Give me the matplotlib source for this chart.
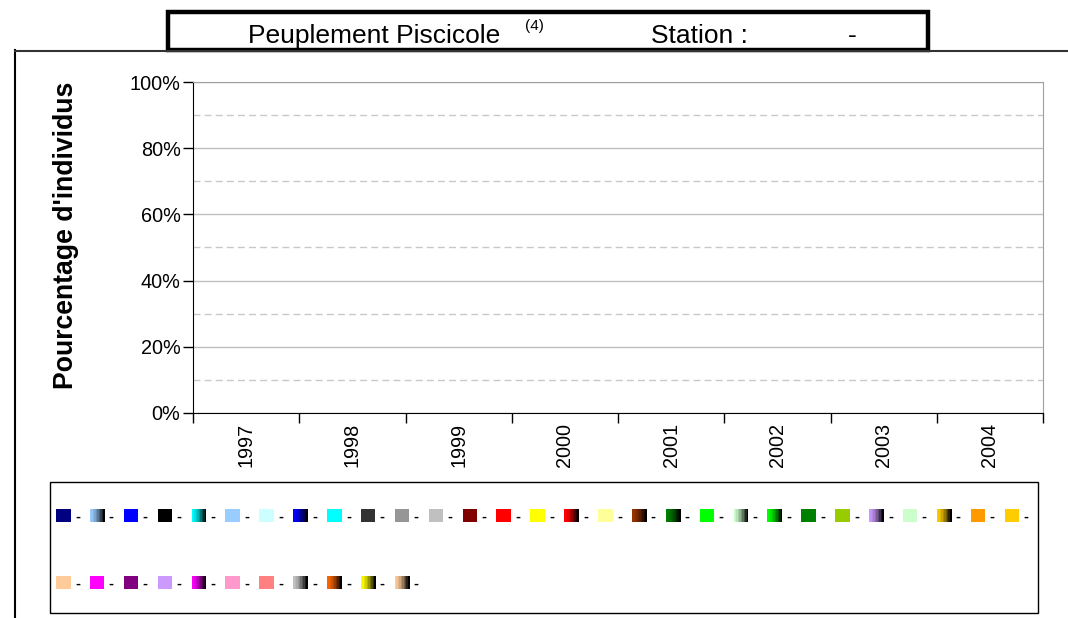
import numpy as np
import matplotlib
matplotlib.use("Agg")
import matplotlib.pyplot as plt
from matplotlib.patches import Rectangle
from matplotlib.lines import Line2D
from matplotlib.colors import to_rgb
from matplotlib.ticker import FixedLocator, PercentFormatter

plt.rcParams['font.family'] = ['Liberation Sans', 'DejaVu Sans']

years = ['1997', '1998', '1999', '2000', '2001', '2002', '2003', '2004']

# species colours as (main colour, gradient end or None) - labels are all "-"
species_colors = [
    ('#000080', None), ('#99ccff', '#000000'), ('#0000ff', None), ('#000000', None),
    ('#00ffff', '#000000'), ('#99ccff', None), ('#ccffff', None), ('#0000ff', '#000000'),
    ('#00ffff', None), ('#333333', None), ('#969696', None), ('#c0c0c0', None),
    ('#800000', None), ('#ff0000', None), ('#ffff00', None), ('#ff0000', '#000000'),
    ('#ffff99', None), ('#993300', '#000000'), ('#008000', '#000000'), ('#00ff00', None),
    ('#ccffcc', '#000000'), ('#00ff00', '#000000'), ('#008000', None), ('#99cc00', None),
    ('#cc99ff', '#000000'), ('#ccffcc', None), ('#ffcc00', '#000000'), ('#ff9900', None),
    ('#ffcc00', None),
    ('#ffcc99', None), ('#ff00ff', None), ('#800080', None), ('#cc99ff', None),
    ('#ff00ff', '#000000'), ('#ff99cc', None), ('#ff8080', None), ('#c0c0c0', '#000000'),
    ('#ff6600', '#000000'), ('#ffff00', '#000000'), ('#ffcc99', '#000000'),
]
species_labels = ['-'] * len(species_colors)
# no sample recorded: every percentage is zero
values = np.zeros((len(species_colors), len(years)))

W, H = 1068, 618
fig = plt.figure(figsize=(W / 100, H / 100), dpi=100)


def fx(px):
    return px / W


def fy(py):
    return 1 - py / H


class SwatchHandler:
    def __init__(self, c1, c2):
        self.c1, self.c2 = c1, c2

    def legend_artist(self, legend, orig_handle, fontsize, handlebox):
        x0, y0 = -handlebox.xdescent, -handlebox.ydescent
        w, h = handlebox.width, handlebox.height
        if self.c2 is None:
            r = Rectangle((x0, y0), w, h, facecolor=self.c1, edgecolor='none',
                          transform=handlebox.get_transform())
            handlebox.add_artist(r)
            return r
        a, b = np.array(to_rgb(self.c1)), np.array(to_rgb(self.c2))
        n = 10
        r = None
        for i in range(n):
            t = (i / (n - 1)) ** 1.5
            r = Rectangle((x0 + i * w / n, y0), w / n + 0.2, h,
                          facecolor=a * (1 - t) + b * t, edgecolor='none',
                          transform=handlebox.get_transform())
            handlebox.add_artist(r)
        return r


ax = fig.add_axes([fx(193), fy(413), fx(1043) - fx(193), fy(82) - fy(413)])
x = np.arange(len(years))
bottom = np.zeros(len(years))
handles = []
hmap = {}
for (c1, c2), lab, v in zip(species_colors, species_labels, values):
    bars = ax.bar(x, v, bottom=bottom, width=0.5, color=c1, label=lab)
    bottom += v
    h = Rectangle((0, 0), 1, 1, facecolor=c1)
    handles.append(h)
    hmap[h] = SwatchHandler(c1, c2)

ax.set_xlim(-0.5, len(years) - 0.5)
ax.set_ylim(0, 1)
ax.yaxis.set_major_locator(FixedLocator(np.arange(0, 1.01, 0.2)))
ax.yaxis.set_minor_locator(FixedLocator(np.arange(0.1, 1.0, 0.2)))
ax.yaxis.set_major_formatter(PercentFormatter(1.0, decimals=0))
ax.xaxis.set_major_locator(FixedLocator(np.arange(-0.5, len(years), 1.0)))
ax.xaxis.set_major_formatter(plt.NullFormatter())
ax.xaxis.set_minor_locator(FixedLocator(x))
ax.set_xticklabels(years, minor=True, rotation=90, fontsize=14.3)
ax.tick_params(axis='x', which='major', length=7, width=1, direction='out')
ax.tick_params(axis='x', which='minor', length=0, pad=7)
ax.tick_params(axis='y', which='major', length=7, width=1, direction='out', pad=2, labelsize=14.3)
ax.tick_params(axis='y', which='minor', length=0)
ax.grid(axis='y', which='major', color='#c0c0c0', linewidth=1, linestyle='-')
ax.grid(axis='y', which='minor', color='#c8c8c8', linewidth=1, linestyle=(0, (5, 3)))
ax.set_axisbelow(True)
for s in ['top', 'right']:
    ax.spines[s].set_color('#a0a0a0')
for s in ['left', 'bottom']:
    ax.spines[s].set_color('black')

fig.text(fx(66), fy(235), "Pourcentage d'individus", rotation=90, ha='center', va='center',
         fontsize=19.2, fontweight='bold')

# outer chart frame
fig.add_artist(Line2D([fx(15), fx(15)], [fy(50), 0], color='black', lw=1.5))
fig.add_artist(Line2D([fx(15), 1], [fy(51), fy(51)], color='#333333', lw=1.5))

# title box
fig.add_artist(Rectangle((fx(168), fy(50)), fx(928) - fx(168), fy(12) - fy(50),
                         facecolor='white', edgecolor='black', lw=3.2))
fig.text(fx(248), fy(43), 'Peuplement Piscicole', fontsize=19, ha='left', va='baseline')
fig.text(fx(525), fy(30), '(4)', fontsize=11, ha='left', va='baseline')
fig.text(fx(651), fy(43), 'Station :', fontsize=19, ha='left', va='baseline')
fig.text(fx(848), fy(43), '-', fontsize=19, ha='left', va='baseline')

# legend box
fig.add_artist(Rectangle((fx(50), fy(613)), fx(1038) - fx(50), fy(482) - fy(613),
                         facecolor='white', edgecolor='black', lw=1))

ncol = 29
n = len(handles)
order = []
for c in range(ncol):
    for r in range(2):
        i = r * ncol + c
        if i < n:
            order.append(i)
leg = fig.legend([handles[i] for i in order], [species_labels[i] for i in order],
                 handler_map=hmap, loc='upper left', bbox_to_anchor=(fx(56), fy(509)),
                 ncol=ncol, frameon=False, prop={'size': 10.5, 'weight': 'bold'},
                 borderpad=0, borderaxespad=0,
                 handlelength=1.0, handleheight=1.0, handletextpad=0.3,
                 columnspacing=0.68, labelspacing=3.6)

fig.savefig('out.png', dpi=100)
